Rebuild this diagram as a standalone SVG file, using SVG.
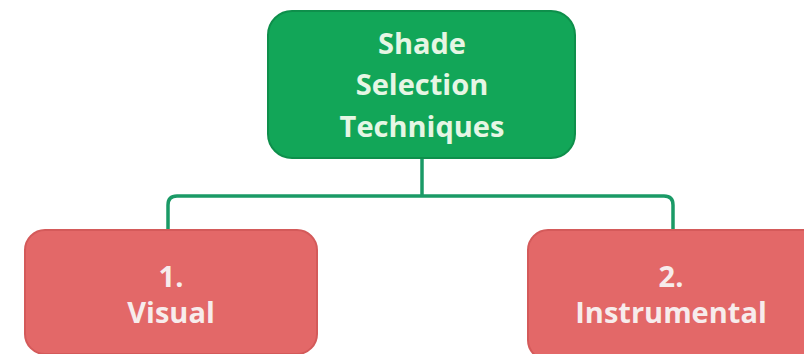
<svg xmlns="http://www.w3.org/2000/svg" width="804" height="354" viewBox="0 0 804 354">
  <style>
    .lbl { font-family: "Open Sans", "Noto Sans", sans-serif; font-weight: bold; font-size: 29px; text-anchor: middle; }
    .root rect { fill: #12a658; stroke: #0e8f4b; stroke-width: 2; }
    .root text { fill: #e6f6e4; }
    .leaf rect { fill: #e36868; stroke: #d45a5a; stroke-width: 2; }
    .leaf text { fill: #f7ecec; }
    .conn { fill: none; stroke: #1a9a66; stroke-width: 3.5; }
  </style>
  <rect width="804" height="354" fill="#ffffff"/>

  <!-- tree connectors: trunk from the root, then a bus out to both children -->
  <g id="connectors">
    <path class="conn" d="M422 158 V196"/>
    <path class="conn" d="M168 230 V205 Q168 196 177 196 H664 Q673 196 673 205 V230"/>
  </g>

  <g id="root" class="root">
    <rect x="268" y="11" width="307" height="147" rx="24"/>
    <text class="lbl" x="422" y="54">Shade</text>
    <text class="lbl" x="422" y="95">Selection</text>
    <text class="lbl" x="422" y="137">Techniques</text>
  </g>

  <g id="visual" class="leaf">
    <rect x="25" y="230" width="292" height="124" rx="20"/>
    <text class="lbl" x="171" y="287">1.</text>
    <text class="lbl" x="171" y="323">Visual</text>
  </g>

  <g id="instrumental" class="leaf">
    <rect x="528" y="230" width="296" height="130" rx="20"/>
    <text class="lbl" x="671" y="287">2.</text>
    <text class="lbl" x="671" y="323">Instrumental</text>
  </g>
</svg>
